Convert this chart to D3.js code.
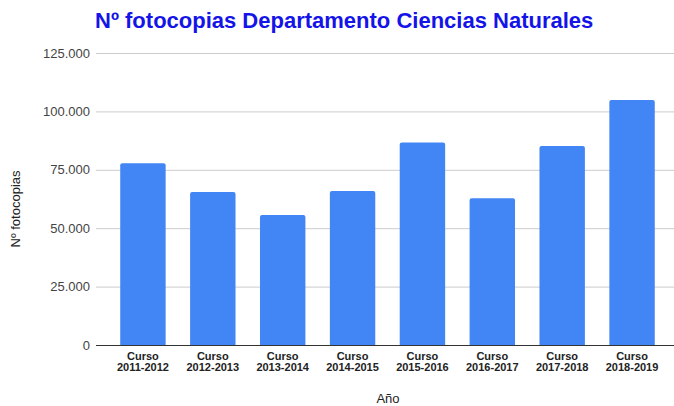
<!DOCTYPE html>
<html lang="es">
<head>
<meta charset="UTF-8"/>
<title>Nº fotocopias</title>
<script src="https://cdn.jsdelivr.net/npm/d3@7"></script>
<style>
  body { margin: 0; background: #fff; }
  text { font-family: "Liberation Sans", Arial, sans-serif; }
</style>
</head>
<body>
<script>
var w = 674;
var h = 406;

var cursos = ["2011-2012", "2012-2013", "2013-2014", "2014-2015", "2015-2016", "2016-2017", "2017-2018", "2018-2019"];
var fotocopias = [77800, 65500, 55700, 65900, 86700, 62800, 85200, 104900];
var yTicks = [0, 25000, 50000, 75000, 100000, 125000];

var svg = d3.select("body").append("svg")
  .attr("width", w)
  .attr("height", h);

var xScale = d3.scaleBand()
  .domain(cursos)
  .range([108, 667])
  .paddingInner(0.35)
  .paddingOuter(0.175);

var yScale = d3.scaleLinear()
  .domain([0, 125000])
  .range([345, 53]);

var fmt = function(d) { return d3.format(",")(d).replace(/,/g, "."); };

// gridlines + labels
var yAxis = d3.axisLeft(yScale)
  .tickValues(yTicks)
  .tickSize(-(674 - 96))
  .tickPadding(6)
  .tickFormat(fmt);

var gy = svg.append("g")
  .attr("transform", "translate(96,0)")
  .call(yAxis);
gy.select(".domain").remove();
gy.selectAll(".tick line").attr("stroke", "#cccccc").attr("stroke-width", 1);
gy.selectAll(".tick text")
  .attr("fill", "#444")
  .attr("font-size", "13px")
  .attr("font-family", "Liberation Sans, Arial, sans-serif");

// bars with rounded tops
svg.selectAll("path.bar")
  .data(fotocopias)
  .enter()
  .append("path")
  .attr("class", "bar")
  .attr("fill", "#4285f4")
  .attr("d", function(d, i) {
    var x0 = xScale(cursos[i]), bw = xScale.bandwidth();
    var y0 = yScale(d), yb = yScale(0), r = 2;
    return "M" + x0 + "," + yb +
      "V" + (y0 + r) +
      "Q" + x0 + "," + y0 + " " + (x0 + r) + "," + y0 +
      "H" + (x0 + bw - r) +
      "Q" + (x0 + bw) + "," + y0 + " " + (x0 + bw) + "," + (y0 + r) +
      "V" + yb + "Z";
  });

// baseline
svg.append("line")
  .attr("x1", 96).attr("x2", 674)
  .attr("y1", yScale(0) + 0.5).attr("y2", yScale(0) + 0.5)
  .attr("stroke", "#333").attr("stroke-width", 1);

// x labels
var xl = svg.selectAll("text.xlab")
  .data(cursos)
  .enter()
  .append("text")
  .attr("class", "xlab")
  .attr("text-anchor", "middle")
  .attr("font-size", "11px")
  .attr("font-weight", "bold")
  .attr("fill", "#222");
xl.append("tspan")
  .attr("x", function(d) { return xScale(d) + xScale.bandwidth() / 2; })
  .attr("y", 360)
  .text("Curso");
xl.append("tspan")
  .attr("x", function(d) { return xScale(d) + xScale.bandwidth() / 2; })
  .attr("y", 371)
  .text(function(d) { return d; });

// title
svg.append("text")
  .attr("x", 95)
  .attr("y", 28)
  .attr("font-size", "22px")
  .attr("font-weight", "bold")
  .attr("fill", "#1414e8")
  .text("Nº fotocopias Departamento Ciencias Naturales");

// axis titles
svg.append("text")
  .attr("x", 388)
  .attr("y", 403)
  .attr("text-anchor", "middle")
  .attr("font-size", "13px")
  .attr("fill", "#222")
  .text("Año");

svg.append("text")
  .attr("transform", "translate(20,209) rotate(-90)")
  .attr("text-anchor", "middle")
  .attr("font-size", "13px")
  .attr("fill", "#222")
  .text("Nº fotocopias");
</script>
</body>
</html>
